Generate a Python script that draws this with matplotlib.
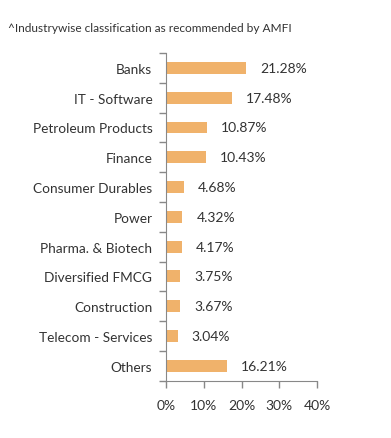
import matplotlib
matplotlib.use("Agg")
import matplotlib.pyplot as plt
import numpy as np

categories = ["Banks", "IT - Software", "Petroleum Products", "Finance", "Consumer Durables",
              "Power", "Pharma. & Biotech", "Diversified FMCG", "Construction",
              "Telecom - Services", "Others"]
values = [21.28, 17.48, 10.87, 10.43, 4.68, 4.32, 4.17, 3.75, 3.67, 3.04, 16.21]
xticks = [0, 10, 20, 30, 40]
xticklabels = ["0%", "10%", "20%", "30%", "40%"]
title = "^Industrywise classification as recommended by AMFI"

plt.rcParams['font.family'] = ['Lato', 'DejaVu Sans']

fig = plt.figure(figsize=(3.91, 4.39), dpi=100)
ax = fig.add_axes([0.425, 0.1305, 0.386, 0.7465])

y = np.arange(len(categories))
ax.barh(y, values, height=0.4, color="#F0B26B")
ax.set_ylim(len(categories) - 0.5, -0.5)
ax.set_xlim(0, 40)
ax.set_yticks(y)
ax.set_yticklabels(categories, fontsize=9.8, color="#333333")
ax.set_yticks(np.arange(-0.5, len(categories), 1), minor=True)
ax.tick_params(axis='y', which='major', length=0, pad=10)
ax.tick_params(axis='y', which='minor', length=5, color="#888888", width=1)
ax.set_xticks(xticks)
ax.set_xticklabels(xticklabels, fontsize=10, color="#333333")
ax.tick_params(axis='x', length=5, color="#888888", width=1, pad=8)

for s in ["top", "right"]:
    ax.spines[s].set_visible(False)
for s in ["left", "bottom"]:
    ax.spines[s].set_color("#888888")

for yi, v in zip(y, values):
    ax.annotate(f"{v:.2f}%", (v, yi), xytext=(10, 0), textcoords="offset points",
                va="center", ha="left", fontsize=10, color="#333333")

fig.text(8 / 391, 1 - 29 / 439, title, fontsize=8.6, color="#333333", va="center", ha="left")

fig.savefig("out.png", dpi=100)
